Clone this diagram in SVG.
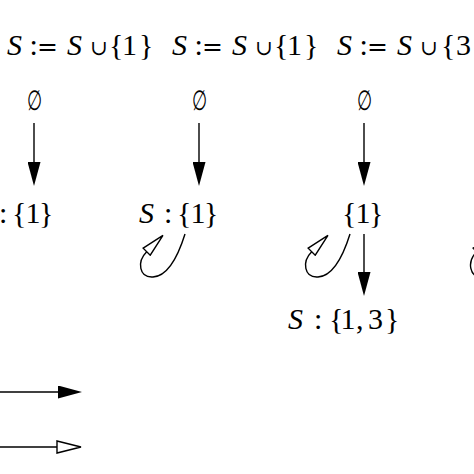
<svg xmlns="http://www.w3.org/2000/svg" width="474" height="474" viewBox="0 0 474 474">
<style>
.m{font-family:"Liberation Serif","DejaVu Serif",serif;font-size:30px;fill:#000}
.i{font-style:italic}
.u{font-family:"DejaVu Serif","Liberation Serif",serif;font-size:21px}
.q{font-family:"DejaVu Serif","Liberation Serif",serif;font-size:25px}
.e{font-family:"DejaVu Serif","Liberation Serif",serif;font-size:28px;fill:#000}
.ln{stroke:#000;stroke-width:1.4;fill:none}
</style>
<defs>
<marker id="fa" viewBox="0 0 24 13" markerWidth="24" markerHeight="13" refX="14" refY="6.5" orient="auto" markerUnits="userSpaceOnUse">
<path d="M0,0 L24,6.5 L0,13 Z" fill="#000"/>
</marker>
<marker id="oa" viewBox="0 0 26 14" markerWidth="26" markerHeight="14" refX="1" refY="7" orient="auto" markerUnits="userSpaceOnUse">
<path d="M1,1 L25,7 L1,13 Z" fill="#fff" stroke="#000" stroke-width="1.4"/>
</marker>
<marker id="ol" viewBox="0 0 25 12" markerWidth="25" markerHeight="12" refX="1" refY="6" orient="auto" markerUnits="userSpaceOnUse">
<path d="M1,1 L24,6 L1,11 Z" fill="#fff" stroke="#000" stroke-width="1.4"/>
</marker>
</defs>
<rect width="474" height="474" fill="#fff"/>

<g id="updates">
<text class="m" y="55"><tspan class="i" x="7">S</tspan> <tspan x="29.5">:</tspan><tspan class="q" x="37">=</tspan> <tspan class="i" x="67">S</tspan> <tspan class="u" x="90">∪</tspan> <tspan x="109">{</tspan><tspan x="122">1</tspan><tspan x="139">}</tspan></text>
<text class="m" y="55"><tspan class="i" x="172">S</tspan> <tspan x="194.5">:</tspan><tspan class="q" x="202">=</tspan> <tspan class="i" x="232">S</tspan> <tspan class="u" x="255">∪</tspan> <tspan x="274">{</tspan><tspan x="287">1</tspan><tspan x="304">}</tspan></text>
<text class="m" y="55"><tspan class="i" x="337">S</tspan> <tspan x="359.5">:</tspan><tspan class="q" x="367">=</tspan> <tspan class="i" x="397">S</tspan> <tspan class="u" x="420">∪</tspan> <tspan x="441">{</tspan><tspan x="456">3</tspan><tspan x="474">}</tspan></text>
</g>

<g id="empty1"><text class="e" transform="translate(34,110) scale(0.62,1)" text-anchor="middle">∅</text></g>
<g id="empty2"><text class="e" transform="translate(199,110) scale(0.62,1)" text-anchor="middle">∅</text></g>
<g id="empty3"><text class="e" transform="translate(364,110) scale(0.62,1)" text-anchor="middle">∅</text></g>

<g id="state1"><text class="m" y="223"><tspan class="i" x="-26">S</tspan> <tspan x="-1">:</tspan> <tspan x="12">{</tspan><tspan x="25.5">1</tspan><tspan x="39">}</tspan></text></g>
<g id="state2"><text class="m" y="223"><tspan class="i" x="139">S</tspan> <tspan x="164">:</tspan> <tspan x="177">{</tspan><tspan x="190.5">1</tspan><tspan x="204">}</tspan></text></g>
<g id="state3"><text class="m" y="223"><tspan x="342">{</tspan><tspan x="355.5">1</tspan><tspan x="369">}</tspan></text></g>
<g id="state4"><text class="m" y="329"><tspan class="i" x="288">S</tspan> <tspan x="314">:</tspan> <tspan x="329">{</tspan><tspan x="340.5">1</tspan><tspan x="356">,</tspan> <tspan x="368">3</tspan><tspan x="385">}</tspan></text></g>

<g id="connectors">
<line class="ln" x1="34" y1="123" x2="34" y2="176" marker-end="url(#fa)"/>
<line class="ln" x1="199" y1="123" x2="199" y2="176" marker-end="url(#fa)"/>
<line class="ln" x1="364" y1="123" x2="364" y2="176" marker-end="url(#fa)"/>
<line class="ln" x1="364" y1="234" x2="364" y2="286" marker-end="url(#fa)"/>
<path class="ln" d="M185,234 C180,250 170,276 153,277 C139,278 136.7,261.7 146.7,251.7" marker-end="url(#ol)"/>
<path class="ln" d="M350,234 C345,250 335,276 318,277 C304,278 301.7,261.7 311.7,251.7" marker-end="url(#ol)"/>
<path class="ln" d="M515,234 C510,250 500,276 483,277 C469,278 466.7,261.7 476.7,251.7" marker-end="url(#ol)"/>
<line class="ln" x1="-10" y1="392" x2="72" y2="392" marker-end="url(#fa)"/>
<line class="ln" x1="-10" y1="447" x2="57" y2="447" marker-end="url(#oa)"/>
</g>
</svg>
